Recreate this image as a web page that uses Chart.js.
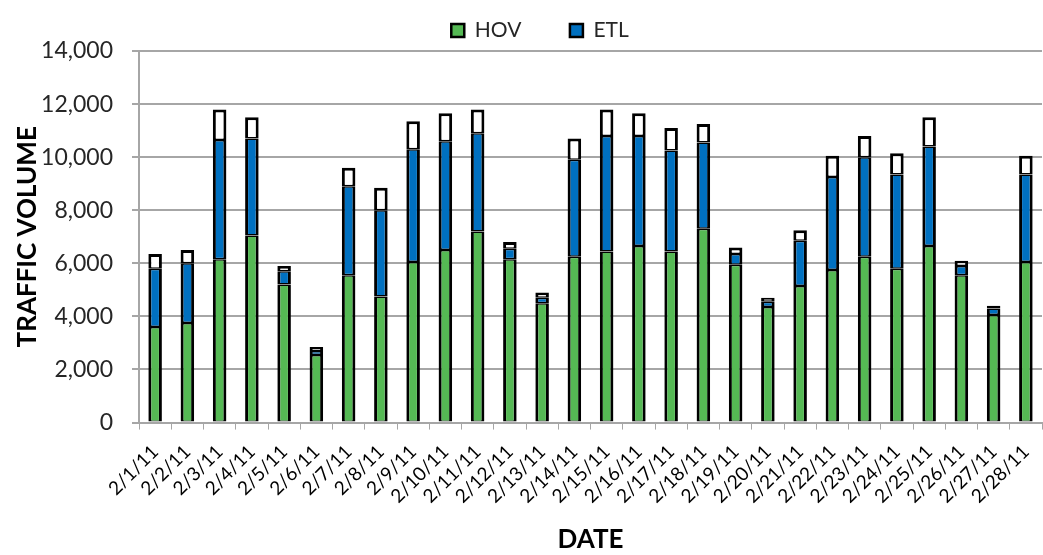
<!DOCTYPE html>
<html>
<head>
<meta charset="utf-8">
<script src="https://cdn.jsdelivr.net/npm/chart.js@4.4.1/dist/chart.umd.min.js"></script>
<style>
  html, body { margin: 0; padding: 0; background: #fff; }
  #wrap { width: 1043px; height: 555px; }
</style>
</head>
<body>
<div id="wrap"><canvas id="trafficChart"></canvas></div>
<script>
// daily traffic counts
const dates = ['2/1/11', '2/2/11', '2/3/11', '2/4/11', '2/5/11', '2/6/11', '2/7/11',
  '2/8/11', '2/9/11', '2/10/11', '2/11/11', '2/12/11', '2/13/11', '2/14/11',
  '2/15/11', '2/16/11', '2/17/11', '2/18/11', '2/19/11', '2/20/11', '2/21/11',
  '2/22/11', '2/23/11', '2/24/11', '2/25/11', '2/26/11', '2/27/11', '2/28/11'];

const hovVolume = [3600, 3750, 6150, 7050, 5200, 2550, 5550, 4750, 6050, 6500, 7200, 6150, 4500, 6250,
  6450, 6650, 6450, 7300, 5950, 4350, 5150, 5750, 6250, 5800, 6650, 5550, 4050, 6050];

const etlVolume = [2200, 2250, 4500, 3650, 500, 150, 3350, 3250, 4250, 4100, 3700, 400, 200, 3650,
  4350, 4150, 3800, 3250, 400, 200, 1700, 3500, 3750, 3550, 3750, 350, 250, 3300];

// unlabeled white segment on top of each bar
const otherVolume = [550, 500, 1150, 800, 200, 150, 700, 850, 1050, 1050, 900, 250, 200, 800,
  1000, 850, 850, 700, 250, 150, 400, 800, 800, 800, 1100, 200, 100, 700];

const yTicks = [0, 2000, 4000, 6000, 8000, 10000, 12000, 14000];

const FONT = 'Lato, "Open Sans", sans-serif';

const whiteBg = {
  id: 'whiteBg',
  beforeDraw: (chart) => {
    const c = chart.ctx;
    c.save();
    c.fillStyle = '#ffffff';
    c.fillRect(0, 0, chart.width, chart.height);
    c.restore();
  }
};

// legend sits a bit right of centre in the original
const nudgeLegend = {
  id: 'nudgeLegend',
  afterLayout: (chart) => {
    if (chart.legend) {
      chart.legend.left += 13;
      chart.legend.right += 13;
    }
  }
};

const barStyle = {
  borderColor: '#000000',
  borderSkipped: false,
  barPercentage: 0.42,
  categoryPercentage: 1.0,
  stack: 'day'
};

const drawChart = () => {
  const ctx = document.getElementById('trafficChart').getContext('2d');
  new Chart(ctx, {
    type: 'bar',
    data: {
      labels: dates,
      datasets: [
        { label: 'HOV', data: hovVolume, backgroundColor: '#55b954', ...barStyle,
          borderWidth: { left: 3, right: 3, top: 1.5, bottom: 1 } },
        { label: 'ETL', data: etlVolume, backgroundColor: '#0070c0', ...barStyle,
          borderWidth: { left: 3, right: 3, top: 1.5, bottom: 1.5 } },
        { label: '', data: otherVolume, backgroundColor: '#ffffff', ...barStyle,
          borderWidth: { left: 3, right: 3, top: 3, bottom: 1.5 } }
      ]
    },
    options: {
      responsive: true,
      maintainAspectRatio: false,
      animation: false,
      layout: { padding: { left: 12, right: 1, top: 3, bottom: 0 } },
      plugins: {
        tooltip: { enabled: false },
        legend: {
          position: 'top',
          labels: {
            font: { family: FONT, size: 21 },
            color: '#262626',
            boxWidth: 13,
            boxHeight: 13,
            padding: 17,
            generateLabels: (chart) => {
              const items = Chart.defaults.plugins.legend.labels.generateLabels(chart)
                .filter((item) => item.text !== '');
              // wider gap after the first entry, like the original legend
              items[0].text = items[0].text + '\u2002\u2002\u2002';
              items.forEach((item) => { item.lineWidth = 2.5; });
              return items;
            }
          }
        }
      },
      scales: {
        x: {
          stacked: true,
          afterFit: (axis) => {
            // rotated labels fit inside the margins already
            axis.paddingLeft = 0;
            axis.paddingRight = 0;
          },
          grid: {
            offset: true,
            drawOnChartArea: false,
            drawTicks: true,
            tickLength: 7,
            color: '#a6a6a6',
            lineWidth: 1
          },
          border: { color: '#a6a6a6', width: 2 },
          ticks: {
            autoSkip: false,
            minRotation: 45,
            maxRotation: 45,
            font: { family: FONT, size: 19 },
            color: '#000000',
            padding: 11
          },
          title: {
            display: true,
            text: 'DATE',
            font: { family: FONT, size: 26, weight: 'bold' },
            color: '#000000',
            padding: { top: 5, bottom: 0 }
          }
        },
        y: {
          stacked: true,
          min: 0,
          max: 14000,
          afterBuildTicks: (axis) => {
            axis.ticks = yTicks.map((v) => ({ value: v }));
          },
          afterFit: (axis) => {
            axis.width = 127;
          },
          grid: {
            color: '#a6a6a6',
            lineWidth: 2,
            tickLength: 7
          },
          border: { color: '#a6a6a6', width: 2 },
          ticks: {
            font: { family: FONT, size: 23 },
            color: '#262626',
            padding: 19,
            callback: (v) => v.toLocaleString('en-US')
          },
          title: {
            display: true,
            text: 'TRAFFIC VOLUME',
            font: { family: FONT, size: 26, weight: 'bold' },
            color: '#000000',
            padding: { top: 0, bottom: 0 }
          }
        }
      }
    },
    plugins: [whiteBg, nudgeLegend]
  });
};

// make sure Lato is ready before Chart.js measures the labels
Promise.all([
  document.fonts.load('20px Lato'),
  document.fonts.load('bold 26px Lato')
]).then(drawChart, drawChart);
</script>
</body>
</html>
